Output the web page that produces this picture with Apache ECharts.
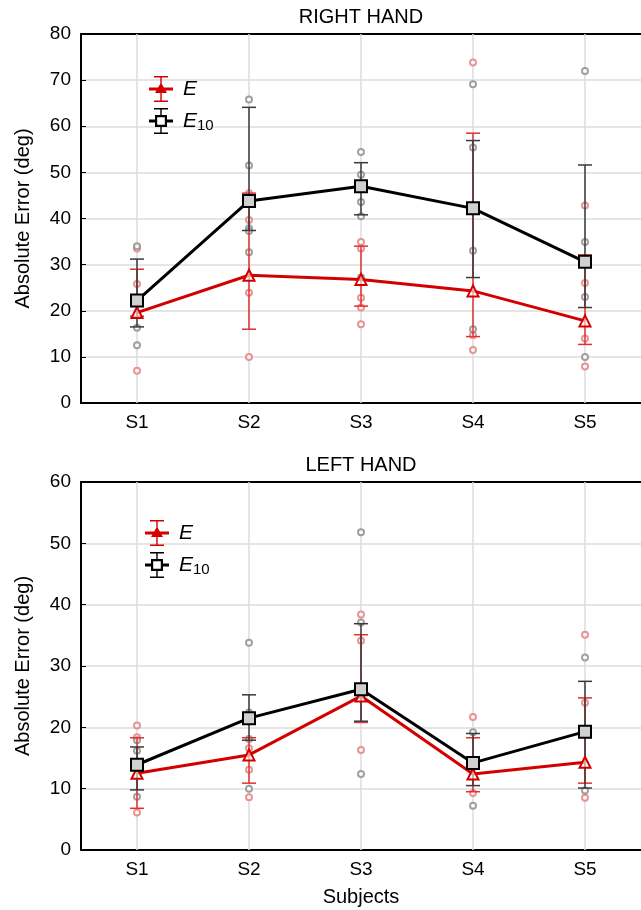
<!DOCTYPE html>
<html>
<head>
<meta charset="utf-8">
<script src="https://cdn.jsdelivr.net/npm/echarts@6/dist/echarts.min.js"></script>
<style>
    html, body { margin: 0; padding: 0; background: #fff; }
    #chart { width: 641px; height: 910px; }
</style>
</head>
<body>
<div id="chart"></div>
<script>
    var subjects = ['S1', 'S2', 'S3', 'S4', 'S5'];

    // RIGHT HAND
    var rightE = [19.6, 27.7, 26.8, 24.3, 17.8];
    var rightELow = [18.8, 16.0, 21.0, 14.4, 12.7];
    var rightEHigh = [29.0, 45.5, 34.0, 58.5, 32.1];
    var rightE10 = [22.2, 43.8, 47.0, 42.2, 30.6];
    var rightE10Low = [16.5, 37.4, 40.8, 27.2, 20.7];
    var rightE10High = [31.2, 64.1, 52.1, 56.9, 51.6];
    var rightETrials = [
        [33.5, 25.8, 7.0],
        [45.5, 39.7, 23.9, 10.0],
        [34.9, 33.5, 22.8, 20.7, 17.1],
        [73.8, 14.7, 11.5],
        [42.8, 26.0, 14.0, 7.9]
    ];
    var rightE10Trials = [
        [34.0, 16.3, 12.5],
        [65.8, 51.5, 37.9, 37.3, 32.7],
        [54.4, 49.5, 43.6, 40.5, 27.2],
        [69.1, 55.4, 33.0, 16.0],
        [72.0, 34.9, 23.0, 10.0]
    ];

    // LEFT HAND
    var leftE = [12.5, 15.5, 25.1, 12.4, 14.3];
    var leftELow = [6.8, 10.9, 20.8, 9.5, 10.9];
    var leftEHigh = [18.3, 18.3, 35.1, 18.3, 24.8];
    var leftE10 = [13.9, 21.5, 26.2, 14.2, 19.3];
    var leftE10Low = [9.8, 17.9, 21.0, 10.5, 10.1];
    var leftE10High = [16.8, 25.3, 36.9, 19.0, 27.5];
    var leftETrials = [
        [20.3, 18.4, 6.1],
        [16.6, 13.1, 8.6],
        [38.4, 34.1, 16.3],
        [21.7, 9.3],
        [35.1, 24.0, 8.5]
    ];
    var leftE10Trials = [
        [17.9, 16.2, 8.7],
        [33.8, 22.4, 18.1, 10.0],
        [51.8, 37.1, 12.4],
        [19.2, 7.2],
        [31.4, 9.7]
    ];

    var RED = '#d40000';
    var FONT = 'Liberation Sans';

    // legend icons: error bar + marker
    var iconE = 'path://M5 0H19V1.6H5Z M5 24.4H19V26H5Z M11.3 0H12.7V26H11.3Z M0 11.5H24V14.5H0Z M12 6.5L18 17L6 17Z';
    var iconE10 = 'path://M5 0H19V1.6H5Z M5 24.4H19V26H5Z M11.3 0H12.7V7H11.3Z M11.3 19H12.7V26H11.3Z ' +
        'M0 11.5H6V14.5H0Z M18 11.5H24V14.5H18Z M6 7H18V19H6Z M8.2 9.2V16.8H15.8V9.2Z';

    function trialPoints(trials) {
        var pts = [];
        trials.forEach(function (list, i) {
            list.forEach(function (v) { pts.push([i, v]); });
        });
        return pts;
    }

    function barPoints(low, high) {
        return low.map(function (l, i) { return [i, l, high[i]]; });
    }

    function renderErrorBar(params, api) {
        var lo = api.coord([api.value(0), api.value(1)]);
        var hi = api.coord([api.value(0), api.value(2)]);
        var w = 7;
        var style = { stroke: api.visual('color'), lineWidth: 1.5 };
        return {
            type: 'group',
            children: [
                { type: 'line', shape: { x1: lo[0], y1: lo[1], x2: hi[0], y2: hi[1] }, style: style },
                { type: 'line', shape: { x1: hi[0] - w, y1: hi[1], x2: hi[0] + w, y2: hi[1] }, style: style },
                { type: 'line', shape: { x1: lo[0] - w, y1: lo[1], x2: lo[0] + w, y2: lo[1] }, style: style }
            ]
        };
    }

    function panelSeries(idx, e, eLow, eHigh, e10, e10Low, e10High, eTrials, e10Trials) {
        var xi = idx * 2;
        return [
            {
                type: 'scatter', xAxisIndex: xi, yAxisIndex: idx, z: 2,
                symbol: 'emptyCircle', symbolSize: 6,
                itemStyle: { color: '#e27b7b', borderWidth: 1 },
                data: trialPoints(eTrials),
                markLine: {
                    silent: true, z: 1, symbol: ['none', 'none'], label: { show: false },
                    lineStyle: { color: '#dcdcdc', width: 1.5, type: 'solid' },
                    emphasis: { disabled: true },
                    data: subjects.map(function (s) { return { xAxis: s }; })
                }
            },
            {
                type: 'scatter', xAxisIndex: xi, yAxisIndex: idx, z: 2,
                symbol: 'emptyCircle', symbolSize: 6,
                itemStyle: { color: '#8a8a8a', borderWidth: 1 },
                data: trialPoints(e10Trials)
            },
            {
                type: 'custom', xAxisIndex: xi, yAxisIndex: idx, z: 3,
                itemStyle: { color: '#e03030' },
                renderItem: renderErrorBar,
                encode: { x: 0, y: [1, 2] },
                data: barPoints(eLow, eHigh)
            },
            {
                type: 'custom', xAxisIndex: xi, yAxisIndex: idx, z: 3,
                itemStyle: { color: '#3a3a3a' },
                renderItem: renderErrorBar,
                encode: { x: 0, y: [1, 2] },
                data: barPoints(e10Low, e10High)
            },
            {
                name: 'E', type: 'line', xAxisIndex: xi, yAxisIndex: idx, z: 4,
                symbol: 'triangle', symbolSize: 11,
                lineStyle: { color: RED, width: 3 },
                itemStyle: { color: 'rgba(255,255,255,0.6)', borderColor: RED, borderWidth: 2 },
                data: e
            },
            {
                name: 'E10', type: 'line', xAxisIndex: xi, yAxisIndex: idx, z: 5,
                symbol: 'rect', symbolSize: 12,
                lineStyle: { color: '#000', width: 3 },
                itemStyle: { color: '#d0d0d0', borderColor: '#000', borderWidth: 2 },
                data: e10
            }
        ];
    }

    function bottomAxis(gridIndex, name) {
        return {
            type: 'category', gridIndex: gridIndex, position: 'bottom', data: subjects,
            name: name, nameLocation: 'middle', nameGap: 37,
            nameTextStyle: { fontSize: 20, color: '#000' },
            axisLine: { lineStyle: { color: '#000', width: 2 } },
            axisTick: { inside: true, alignWithLabel: true, length: 5, lineStyle: { color: '#000' } },
            axisLabel: { fontSize: 19, color: '#000', margin: 10 },
            splitLine: { show: false }
        };
    }

    function topAxis(gridIndex, title) {
        return {
            type: 'category', gridIndex: gridIndex, position: 'top', data: subjects,
            name: title, nameLocation: 'middle', nameGap: 7,
            nameTextStyle: { fontSize: 20, color: '#000' },
            axisLine: { lineStyle: { color: '#000', width: 2 } },
            axisTick: { inside: true, alignWithLabel: true, length: 5, lineStyle: { color: '#000' } },
            axisLabel: { show: false },
            splitLine: { show: false }
        };
    }

    function valueAxis(gridIndex, max) {
        return {
            type: 'value', gridIndex: gridIndex, min: 0, max: max, interval: 10,
            name: 'Absolute Error (deg)', nameLocation: 'middle', nameGap: 48,
            nameTextStyle: { fontSize: 20, color: '#000' },
            axisLine: { show: true, lineStyle: { color: '#000', width: 2 } },
            axisTick: { show: true, inside: true, length: 5, lineStyle: { color: '#000' } },
            axisLabel: { fontSize: 19, color: '#000', margin: 10 },
            splitLine: { show: true, lineStyle: { color: '#dcdcdc', width: 1.5 } }
        };
    }

    function legendFor(top, left) {
        return {
            orient: 'vertical', top: top, left: left, padding: 0,
            itemWidth: 24, itemHeight: 26, itemGap: 6,
            selectedMode: false,
            data: [
                { name: 'E', icon: iconE, itemStyle: { color: RED, borderWidth: 0 } },
                { name: 'E10', icon: iconE10, itemStyle: { color: '#000', borderWidth: 0 } }
            ],
            formatter: function (name) {
                return name === 'E10' ? '{i|E}{s|10}' : '{i|E}';
            },
            textStyle: {
                padding: [0, 0, 0, 5],
                rich: {
                    i: { fontSize: 21, fontStyle: 'italic', color: '#000', fontFamily: FONT },
                    s: { fontSize: 15, color: '#000', padding: [10, 0, 0, 0], fontFamily: FONT }
                }
            }
        };
    }

    var chart = echarts.init(document.getElementById('chart'), null, { renderer: 'canvas' });
    chart.setOption({
        animation: false,
        backgroundColor: '#fff',
        textStyle: { fontFamily: FONT },
        grid: [
            { left: 81, top: 34, width: 567, height: 369 },
            { left: 81, top: 482, width: 567, height: 368 }
        ],
        legend: [legendFor(76, 149), legendFor(520, 145)],
        xAxis: [
            bottomAxis(0, ''),
            topAxis(0, 'RIGHT HAND'),
            bottomAxis(1, 'Subjects'),
            topAxis(1, 'LEFT HAND')
        ],
        yAxis: [valueAxis(0, 80), valueAxis(1, 60)],
        series: [].concat(
            panelSeries(0, rightE, rightELow, rightEHigh, rightE10, rightE10Low, rightE10High, rightETrials, rightE10Trials),
            panelSeries(1, leftE, leftELow, leftEHigh, leftE10, leftE10Low, leftE10High, leftETrials, leftE10Trials)
        )
    });
</script>
</body>
</html>
